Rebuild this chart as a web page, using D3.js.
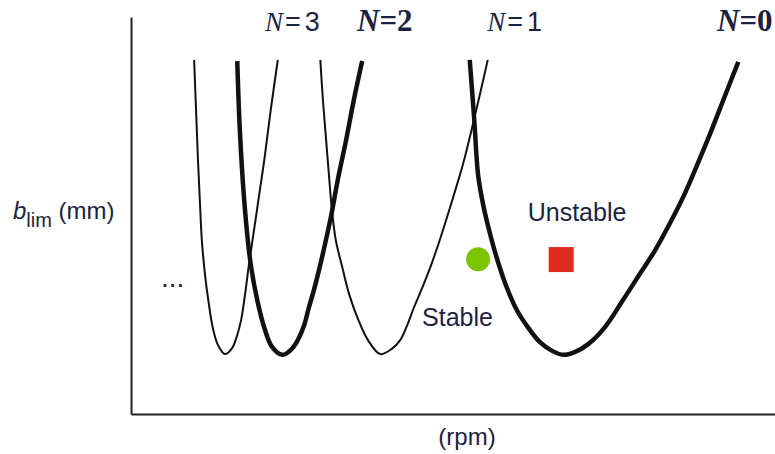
<!DOCTYPE html>
<html>
<head>
<meta charset="utf-8">
<script src="https://cdn.jsdelivr.net/npm/d3@7"></script>
<style>
  body { margin: 0; background: #fff; }
  #chart { width: 775px; height: 454px; }
  .lbl { font-family: "Liberation Sans Narrow", "Arial Narrow", "Liberation Sans", Arial, sans-serif; fill: #1c2340; }
  .nlbl { font-family: "Liberation Serif", "Times New Roman", serif; fill: #1c2340; }
</style>
</head>
<body>
<div id="chart"></div>
<script>
// lobe number, spindle speed and limiting depth (arbitrary units, 0-100)
const lobeN = [3, 2, 1, 0];
const lobeRpm = [
    [9.8, 10.1, 10.4, 10.7, 11.0, 11.5, 12.0, 12.7, 13.5, 14.6,
     15.7, 16.5, 17.1, 17.7, 18.3, 19.1, 19.9, 20.7, 21.7, 22.8],
    [16.5, 16.9, 17.6, 18.5, 19.6, 20.8, 21.9, 23.5,
     24.8, 25.9, 26.9, 27.6, 28.4, 29.2, 30.1, 31.1, 32.1, 33.4, 34.6, 35.9],
    [29.4, 29.8, 30.3, 30.8, 31.2, 31.8, 32.8, 33.9, 35.3, 36.8, 38.7,
     40.5, 41.8, 42.9, 43.9, 45.2, 46.6, 48.1, 49.8, 51.6, 53.4, 55.4],
    [52.6, 53.3, 53.9, 54.7, 55.8, 56.8, 58.2, 59.9, 61.7, 63.5, 65.4, 67.1,
     68.9, 71.0, 73.6, 76.4, 78.9, 81.4, 83.7, 85.9, 87.9, 89.9, 92.1, 94.3]
];
const lobeBlim = [
    [89.2, 76.6, 64.0, 53.4, 43.8, 35.0, 28.7, 21.7, 17.4, 15.1,
     16.6, 19.9, 23.7, 30.0, 37.5, 46.3, 55.2, 64.0, 76.6, 89.2],
    [88.9, 71.5, 53.4, 38.8, 28.7, 21.2, 16.9, 14.9,
     16.1, 18.6, 22.4, 26.7, 31.2, 36.3, 42.6, 50.1, 58.9, 69.0, 79.1, 88.9],
    [89.2, 79.1, 69.0, 58.9, 51.4, 43.8, 37.0, 30.0, 23.7, 18.6, 15.1,
     16.4, 18.6, 22.4, 26.7, 31.7, 37.5, 44.6, 53.4, 63.2, 75.1, 89.2],
    [89.2, 74.1, 60.2, 52.6, 45.1, 39.3, 32.5, 26.2, 21.7, 18.1, 15.9, 14.9,
     15.6, 17.6, 21.9, 28.7, 35.0, 41.3, 48.1, 55.2, 62.7, 70.5, 79.6, 88.7]
];
// where the "N = .." labels start (rpm units)
const lobeLabelRpm = [20.8, 35.1, 55.3, 91.0];

// the two example cutting points
const pointNames = ['stable', 'unstable'];
const pointRpm = [53.9, 66.8];
const pointBlim = [39.0, 38.9];

const regionNames = ['Stable', 'Unstable'];
const regionRpm = [45.2, 61.6];
const regionBlim = [22.2, 48.6];

const width = 775, height = 454;
const margin = { left: 131, right: 0, top: 17, bottom: 40 };

const svg = d3.select('#chart').append('svg')
    .attr('width', width)
    .attr('height', height);

const x = d3.scaleLinear().domain([0, 100]).range([margin.left, width - margin.right]);
const y = d3.scaleLinear().domain([0, 100]).range([height - margin.bottom, margin.top]);

// axes: plain lines, no ticks
svg.append('g')
    .attr('transform', `translate(0,${y(0)})`)
    .call(d3.axisBottom(x).ticks(0).tickSizeOuter(0))
    .call(g => g.select('.domain').attr('stroke', '#222').attr('stroke-width', 2));
svg.append('g')
    .attr('transform', `translate(${x(0)},0)`)
    .call(d3.axisLeft(y).ticks(0).tickSizeOuter(0))
    .call(g => g.select('.domain').attr('stroke', '#222').attr('stroke-width', 2));

const line = d3.line()
    .x(d => x(d[0]))
    .y(d => y(d[1]))
    .curve(d3.curveCatmullRom.alpha(0.5));

lobeN.forEach((n, i) => {
    const pts = lobeRpm[i].map((r, j) => [r, lobeBlim[i][j]]);
    const even = n % 2 === 0;
    svg.append('path')
        .attr('d', line(pts))
        .attr('fill', 'none')
        .attr('stroke', '#111')
        .attr('stroke-width', even ? 4.5 : 2);

    // label above each lobe: even lobes in bold serif
    const t = svg.append('text')
        .attr('x', x(lobeLabelRpm[i]))
        .attr('y', 31)
        .attr('class', 'nlbl')
        .style('font-size', even ? '31px' : '27px');
    t.append('tspan').style('font-style', 'italic')
        .style('font-weight', even ? 'bold' : 'normal')
        .text('N');
    if (even) {
        t.append('tspan').style('font-weight', 'bold').text('=' + n);
    } else {
        t.append('tspan')
            .style('font-family', '"Liberation Sans", Arial, sans-serif')
            .attr('dx', 2)
            .text('=');
        t.append('tspan')
            .style('font-family', '"Liberation Sans", Arial, sans-serif')
            .attr('dx', 4)
            .text(n);
    }
});

// example points
svg.append('circle')
    .attr('cx', x(pointRpm[0]))
    .attr('cy', y(pointBlim[0]))
    .attr('r', 12)
    .attr('fill', '#7ac400');
svg.append('rect')
    .attr('x', x(pointRpm[1]) - 12.5)
    .attr('y', y(pointBlim[1]) - 12.5)
    .attr('width', 25)
    .attr('height', 25)
    .attr('fill', '#dc2b1c');

regionNames.forEach((name, i) => {
    svg.append('text')
        .attr('class', 'lbl')
        .attr('x', x(regionRpm[i]))
        .attr('y', y(regionBlim[i]))
        .style('font-size', '25px')
        .text(name);
});

// continuation dots
svg.append('text')
    .attr('class', 'lbl')
    .attr('x', 161)
    .attr('y', 287)
    .style('font-size', '28px')
    .text('...');

// axis titles
const yt = svg.append('text')
    .attr('class', 'lbl')
    .attr('x', 13)
    .attr('y', 219)
    .style('font-size', '24px');
yt.append('tspan').style('font-style', 'italic').text('b');
yt.append('tspan').attr('dy', 8).style('font-size', '20px').text('lim');
yt.append('tspan').attr('dy', -8).text(' (mm)');

svg.append('text')
    .attr('class', 'lbl')
    .attr('x', 467)
    .attr('y', 445)
    .attr('text-anchor', 'middle')
    .style('font-size', '24px')
    .text('(rpm)');
</script>
</body>
</html>
